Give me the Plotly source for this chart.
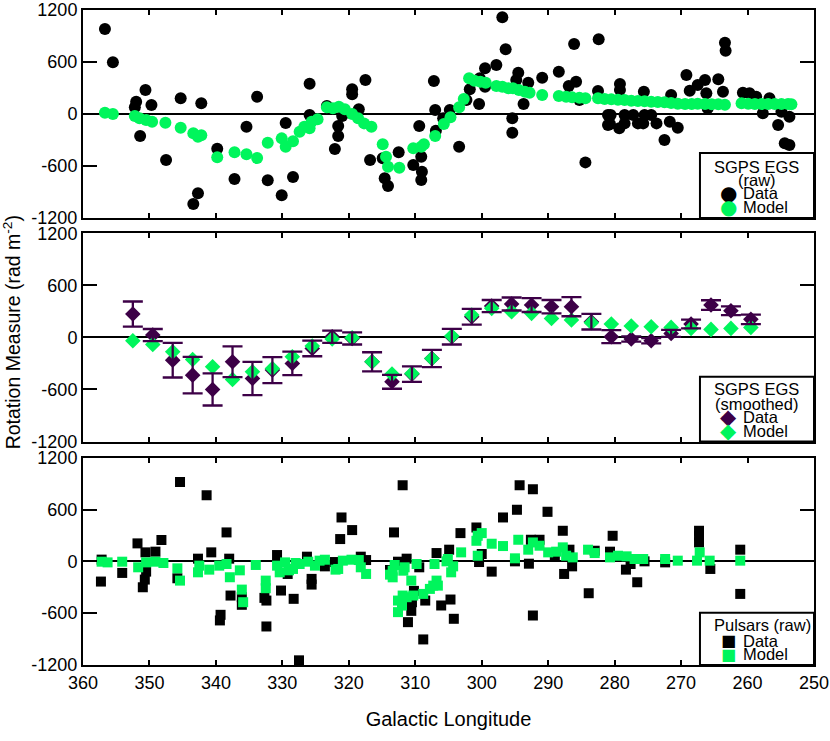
import plotly.graph_objects as go

# ---------------- data ----------------
# Panel 1: SGPS EGS (raw)
egs_raw_l = [356.7, 355.5, 352.0, 352.2, 350.6, 349.7, 351.4, 347.5, 345.3, 342.2, 343.4, 342.7,
             339.8, 337.2, 335.4, 333.8, 332.2, 330.1, 329.5, 328.4, 325.9, 325.9, 323.3, 321.6,
             321.6, 322.1, 321.0, 319.5, 319.5, 318.5, 317.5, 316.8, 314.6, 314.1, 314.9, 312.5,
             310.3, 309.4, 309.0, 309.1, 309.1, 307.0, 307.2, 306.9, 305.8, 304.8, 303.4, 302.3,
             301.8, 300.4, 300.3, 299.5, 299.5, 297.8, 296.9, 296.4, 295.4, 295.4, 294.5, 294.8,
             293.0, 293.7, 290.9, 288.4, 286.9, 285.8, 286.1, 285.3, 284.4, 282.4, 282.5, 281.0,
             281.0, 279.2, 279.2, 280.6, 280.7, 279.3, 278.5, 278.5, 277.2, 276.5, 275.6, 275.5,
             275.7, 274.5, 273.7, 272.5, 271.7, 270.5, 271.5, 269.2, 268.7, 267.5, 266.4, 266.2,
             266.0, 264.4, 263.7, 263.4, 263.3, 260.7, 259.7, 258.7, 257.7, 256.7, 255.4, 254.9,
             253.7, 254.4, 253.7]
egs_raw_rm = [981, 597, 142, 77, 277, 104, -254, -531, 181, 123, -1039, -915,
              -400, -750, -146, 200, -765, -938, -104, -727, 350, -12, 92, -138,
              -254, -404, -23, 285, 227, 54, 392, -531, -742, -831, -511, -442,
              -589, -138, -666, -762, -492, 46, 381, -192, -50, 46, -377, 162,
              285, 115, 412, 527, 315, 565, 1116, 746, -50, -215, 477, 392,
              361, 115, 419, 488, 323, 373, 808, 162, -558, 862, 265, -12,
              -127, 346, 277, -12, -115, -165, -12, -108, -12, -108, 257, -12,
              -108, -12, -108, -300, -88, -158, 219, 450, 269, 335, 392, 239,
              66, 400, 257, 823, 731, 246, 239, 200, 8, 181, -127, 27,
              -31, -338, -358]
egs_raw_model_l = [356.7, 355.5, 352.2, 351.5, 350.5, 349.6, 347.6, 345.3, 343.4, 342.7, 342.2,
                   339.8, 337.2, 335.4, 333.8, 332.2, 330.1, 329.5, 328.4, 327.4, 326.7, 325.9,
                   325.6, 324.7, 323.3, 322.4, 321.5, 320.6, 319.5, 318.6, 317.7, 316.6, 314.9,
                   314.4, 314.1, 312.4, 310.3, 309.1, 308.7, 307.0, 305.7, 304.7, 303.4, 302.7,
                   301.9, 301.1, 300.2, 299.4, 297.8, 296.9, 296.0, 295.3, 294.4, 293.5, 292.8,
                   290.9, 288.4, 287.3, 286.4, 285.3, 284.4, 282.5, 281.5, 280.5, 279.5, 278.5,
                   277.5, 276.5, 275.5, 274.5, 273.5, 272.5, 271.5, 270.5, 269.4, 268.4, 267.5,
                   266.4, 265.4, 264.4, 263.4, 260.9, 259.9, 258.9, 257.9, 256.9, 255.9, 254.9,
                   253.9, 253.4]
egs_raw_model_rm = [15, 0, -23, -50, -69, -88, -100, -158, -223, -262, -246,
                    -500, -442, -465, -508, -331, -281, -377, -315, -204, -146, -165,
                    -88, -61, 77, 66, 85, 54, 0, -50, -108, -146, -350,
                    -492, -608, -620, -396, -377, -350, -254, -115, -38, 77, 173,
                    412, 385, 373, 361, 323, 315, 296, 296, 277, 257, 246,
                    219, 208, 200, 192, 188, 181, 181, 173, 169, 165, 162,
                    154, 150, 146, 142, 138, 135, 127, 119, 115, 115, 119,
                    115, 112, 112, 108, 123, 119, 115, 115, 115, 115, 115,
                    115, 112]

# Panel 2: SGPS EGS (smoothed)
egs_sm_l = [352.5, 349.5, 346.5, 343.5, 340.5, 337.5, 334.5, 331.5, 328.5, 325.5, 322.5,
            319.5, 316.5, 313.5, 310.5, 307.5, 304.5, 301.5, 298.5, 295.5, 292.5, 289.5,
            286.5, 283.5, 280.5, 277.5, 274.5, 271.5, 268.5, 265.5, 262.5, 259.5]
egs_sm_rm = [269, 27, -262, -435, -600, -281, -473, -377, -300, -127, 8,
             -12, -281, -512, -423, -243, 8, 238, 361, 385, 373, 354,
             354, 181, 8, -19, -38, 46, 154, 373, 307, 208]
egs_sm_err = [145, 70, 200, 210, 185, 177, 192, 150, 135, 90, 70,
              70, 110, 80, 90, 100, 90, 90, 70, 75, 80, 77,
              110, 90, 75, 30, 30, 40, 50, 55, 50, 55]
egs_sm_model = [-38, -81, -166, -254, -339, -485, -396, -358, -223, -100, -19,
                -4, -281, -423, -416, -243, 15, 257, 335, 296, 277, 219,
                200, 169, 154, 131, 123, 115, 104, 92, 104, 115]

# Panel 3: Pulsars (raw)
psr_l = [357.2, 357.3, 354.1, 351.8, 350.6, 349.1, 348.2, 351.0, 350.7, 350.5, 345.8, 345.4,
         342.7, 341.4, 340.7, 338.4, 338.0, 337.8, 339.4, 339.3, 336.1, 336.1, 332.7, 332.4,
         332.4, 330.8, 330.2, 329.2, 328.3, 327.5, 325.6, 325.6, 326.3, 323.6, 321.1, 321.3,
         319.5, 318.2, 317.4, 322.1, 313.2, 311.9, 312.6, 311.3, 313.8, 311.1, 310.6, 308.8,
         310.5, 310.2, 309.4, 308.5, 306.8, 304.9, 306.1, 304.7, 304.2, 303.2, 300.8, 300.4,
         300.0, 298.5, 296.8, 295.0, 294.7, 294.3, 292.9, 292.6, 292.3, 292.3, 291.3, 290.1,
         289.0, 287.8, 287.6, 286.8, 286.4, 283.9, 283.0, 280.7, 280.3, 278.3, 277.6, 276.6,
         275.5, 272.4, 267.3, 267.3, 267.3, 265.6, 261.1, 261.1]
psr_rm = [20, -234, -134, 208, 104, 112, 247, -300, -211, -119, -196, 920,
          31, 766, 104, 335, 31, -396, -684, -619, -503, -415, -423, -454,
          -754, 73, -338, -146, -434, -1146, -203, -269, 54, -58, 508, 258,
          362, 54, 15, -8, 335, 881, -4, 31, -100, -704, -573, -904,
          -473, -342, -69, -454, 96, 135, -511, -442, -665, 327, 392, -8,
          85, -119, 508, 0, 597, 881, -27, 250, 835, -627, 250, 573,
          66, 354, -146, 135, -58, -369, 123, 112, 296, -96, -31, -242,
          0, -12, 354, 296, 219, -88, 135, -377]
psr_model_l = [357.2, 356.3, 354.1, 351.7, 350.5, 349.1, 347.9, 345.8, 345.4, 342.7, 342.5,
               341.0, 339.5, 338.4, 337.9, 336.4, 336.1, 335.9, 334.0, 332.5, 332.5, 330.8,
               330.4, 329.6, 329.0, 328.4, 328.0, 327.4, 326.1, 325.1, 324.4, 323.6, 322.0,
               321.6, 320.9, 319.6, 318.5, 318.2, 317.4, 313.8, 313.4, 313.4, 313.1, 312.6,
               312.6, 312.0, 311.9, 311.8, 311.6, 311.3, 310.6, 310.3, 309.8, 308.8, 307.8,
               307.3, 307.1, 306.8, 306.6, 305.3, 305.1, 304.6, 304.3, 303.1, 300.8, 300.6,
               300.0, 300.6, 298.5, 296.8, 295.0, 294.5, 293.0, 292.3, 291.3, 290.0, 288.8,
               287.8, 287.3, 286.3, 284.0, 283.0, 280.7, 279.5, 278.2, 277.0, 275.7, 272.4,
               270.5, 267.6, 267.2, 265.7, 261.1]
psr_model_rm = [-4, -12, -4, -69, -12, -4, -19, -81, -223, -127, -50,
                -96, -50, -31, -184, -104, -327, -473, -42, -223, -311, -50,
                -127, -12, -104, -88, -19, -31, -4, -50, 8, 19, -96,
                -88, 8, 19, 15, -69, -146, -154, -108, -185, -42, -454,
                -588, -512, -396, -108, -69, -415, -223, -396, -31, -377, -319,
                -281, -31, -223, -281, 0, 27, -127, -58, 104, 238, 296,
                327, 65, 204, 177, 35, 250, 135, 219, 181, 104, 112,
                162, 65, 46, 135, 96, 46, 65, 58, 27, 27, 27,
                8, 8, 104, 8, 8]

x_ticks = [360, 350, 340, 330, 320, 310, 300, 290, 280, 270, 260, 250]
y_ticks = [-1200, -600, 0, 600, 1200]
y_ticktext = ["-1200", "-600", "0", "600", "1200"]

# ---------------- style ----------------
BLACK = "#000000"
GREEN = "#00F55C"
PURPLE = "#3D0047"
FONT = "Liberation Sans, Arial, Helvetica, sans-serif"
TICK_SIZE = 18
LEG_SIZE = 16.5

fig = go.Figure()

# Panel 1
fig.add_trace(go.Scatter(x=egs_raw_l, y=egs_raw_rm, mode="markers", xaxis="x", yaxis="y",
                         marker=dict(symbol="circle", size=12, color=BLACK), showlegend=False))
fig.add_trace(go.Scatter(x=egs_raw_model_l, y=egs_raw_model_rm, mode="markers", xaxis="x", yaxis="y",
                         marker=dict(symbol="circle", size=12, color=GREEN), showlegend=False))

# Panel 2
fig.add_trace(go.Scatter(x=egs_sm_l, y=egs_sm_rm, mode="markers", xaxis="x2", yaxis="y2",
                         marker=dict(symbol="diamond", size=12, color=PURPLE), showlegend=False))
fig.add_trace(go.Scatter(x=egs_sm_l, y=egs_sm_model, mode="markers", xaxis="x2", yaxis="y2",
                         marker=dict(symbol="diamond", size=12, color=GREEN), showlegend=False))
fig.add_trace(go.Scatter(x=egs_sm_l, y=egs_sm_rm, mode="markers", xaxis="x2", yaxis="y2",
                         marker=dict(size=1, color="rgba(0,0,0,0)"),
                         error_y=dict(type="data", array=egs_sm_err, visible=True,
                                      color=PURPLE, thickness=2.3, width=10),
                         showlegend=False, hoverinfo="skip"))

# Panel 3
fig.add_trace(go.Scatter(x=psr_l, y=psr_rm, mode="markers", xaxis="x3", yaxis="y3",
                         marker=dict(symbol="square", size=10, color=BLACK), showlegend=False))
fig.add_trace(go.Scatter(x=psr_model_l, y=psr_model_rm, mode="markers", xaxis="x3", yaxis="y3",
                         marker=dict(symbol="square", size=10, color=GREEN), showlegend=False))

common_x = dict(range=[360, 250], tickvals=x_ticks, ticks="inside", ticklen=5, tickwidth=1.5,
                tickcolor=BLACK, showline=True, linewidth=2, linecolor=BLACK, mirror="ticks",
                showgrid=False, zeroline=False, automargin=False,
                tickfont=dict(family=FONT, size=TICK_SIZE, color=BLACK))
common_y = dict(range=[-1200, 1200], tickvals=y_ticks, ticktext=y_ticktext, ticks="inside",
                ticklen=14, tickwidth=1.5, tickcolor=BLACK, showline=True, linewidth=2,
                linecolor=BLACK, mirror="ticks", showgrid=False, zeroline=True,
                zerolinecolor=BLACK, zerolinewidth=1.8, automargin=False,
                tickfont=dict(family=FONT, size=TICK_SIZE, color=BLACK))

fig.update_layout(
    width=830, height=741, autosize=False,
    margin=dict(l=83, r=16, t=10, b=76, pad=0),
    paper_bgcolor="white", plot_bgcolor="white",
    font=dict(family=FONT, size=16, color=BLACK),
    showlegend=False,
    xaxis=dict(common_x, domain=[0, 1], anchor="y", showticklabels=False),
    xaxis2=dict(common_x, domain=[0, 1], anchor="y2", showticklabels=False),
    xaxis3=dict(common_x, domain=[0, 1], anchor="y3", showticklabels=True,
                title=dict(text="Galactic Longitude", font=dict(family=FONT, size=20), standoff=20)),
    yaxis=dict(common_y, domain=[0.6824, 1.0], anchor="x"),
    yaxis2=dict(common_y, domain=[0.3412, 0.6591], anchor="x2"),
    yaxis3=dict(common_y, domain=[0.0, 0.3165], anchor="x3"),
)

# y-axis title shared
fig.add_annotation(text="Rotation Measure (rad m<sup>-2</sup>)", xref="paper", yref="paper",
                   x=-0.097, y=0.508, textangle=-90, showarrow=False,
                   xanchor="center", yanchor="middle",
                   font=dict(family=FONT, size=19.5, color=BLACK))

# ---------------- legends (boxed, drawn per panel) ----------------
def add_box_legend(xs, ys, box_top, title_lines, title_x, entries, glyph, glyph_size):
    xr = xs + " domain"
    yr = ys + " domain"
    fig.add_shape(type="rect", xref=xr, yref=yr, x0=0.844, x1=1.0, y0=0.0, y1=box_top,
                  line=dict(color=BLACK, width=2), fillcolor="white", layer="above")
    for text, yy in title_lines:
        fig.add_annotation(text=text, xref=xr, yref=yr, x=title_x, y=yy, showarrow=False,
                           xanchor="center", yanchor="middle",
                           font=dict(family=FONT, size=LEG_SIZE, color=BLACK))
    for label, color, yy in entries:
        fig.add_annotation(text=glyph, xref=xr, yref=yr, x=0.8827, y=yy, showarrow=False,
                           xanchor="center", yanchor="middle",
                           font=dict(family="DejaVu Sans", size=glyph_size, color=color))
        fig.add_annotation(text=label, xref=xr, yref=yr, x=0.8997, y=yy, showarrow=False,
                           xanchor="left", yanchor="middle",
                           font=dict(family=FONT, size=LEG_SIZE, color=BLACK))

add_box_legend("x", "y", 0.3125,
               [("SGPS EGS", 0.247), ("(raw)", 0.183)], 0.9216,
               [("Data", BLACK, 0.119), ("Model", GREEN, 0.051)], "●", 20)
add_box_legend("x2", "y2", 0.311,
               [("SGPS EGS", 0.251), ("(smoothed)", 0.180)], 0.9216,
               [("Data", PURPLE, 0.116), ("Model", GREEN, 0.052)], "◆", 21)
add_box_legend("x3", "y3", 0.252,
               [("Pulsars (raw)", 0.193)], 0.930,
               [("Data", BLACK, 0.117), ("Model", GREEN, 0.052)], "■", 16)

fig.write_html("out.html", config={"displayModeBar": False},
               post_script="document.body.style.margin='0px';document.body.style.padding='0px';")
